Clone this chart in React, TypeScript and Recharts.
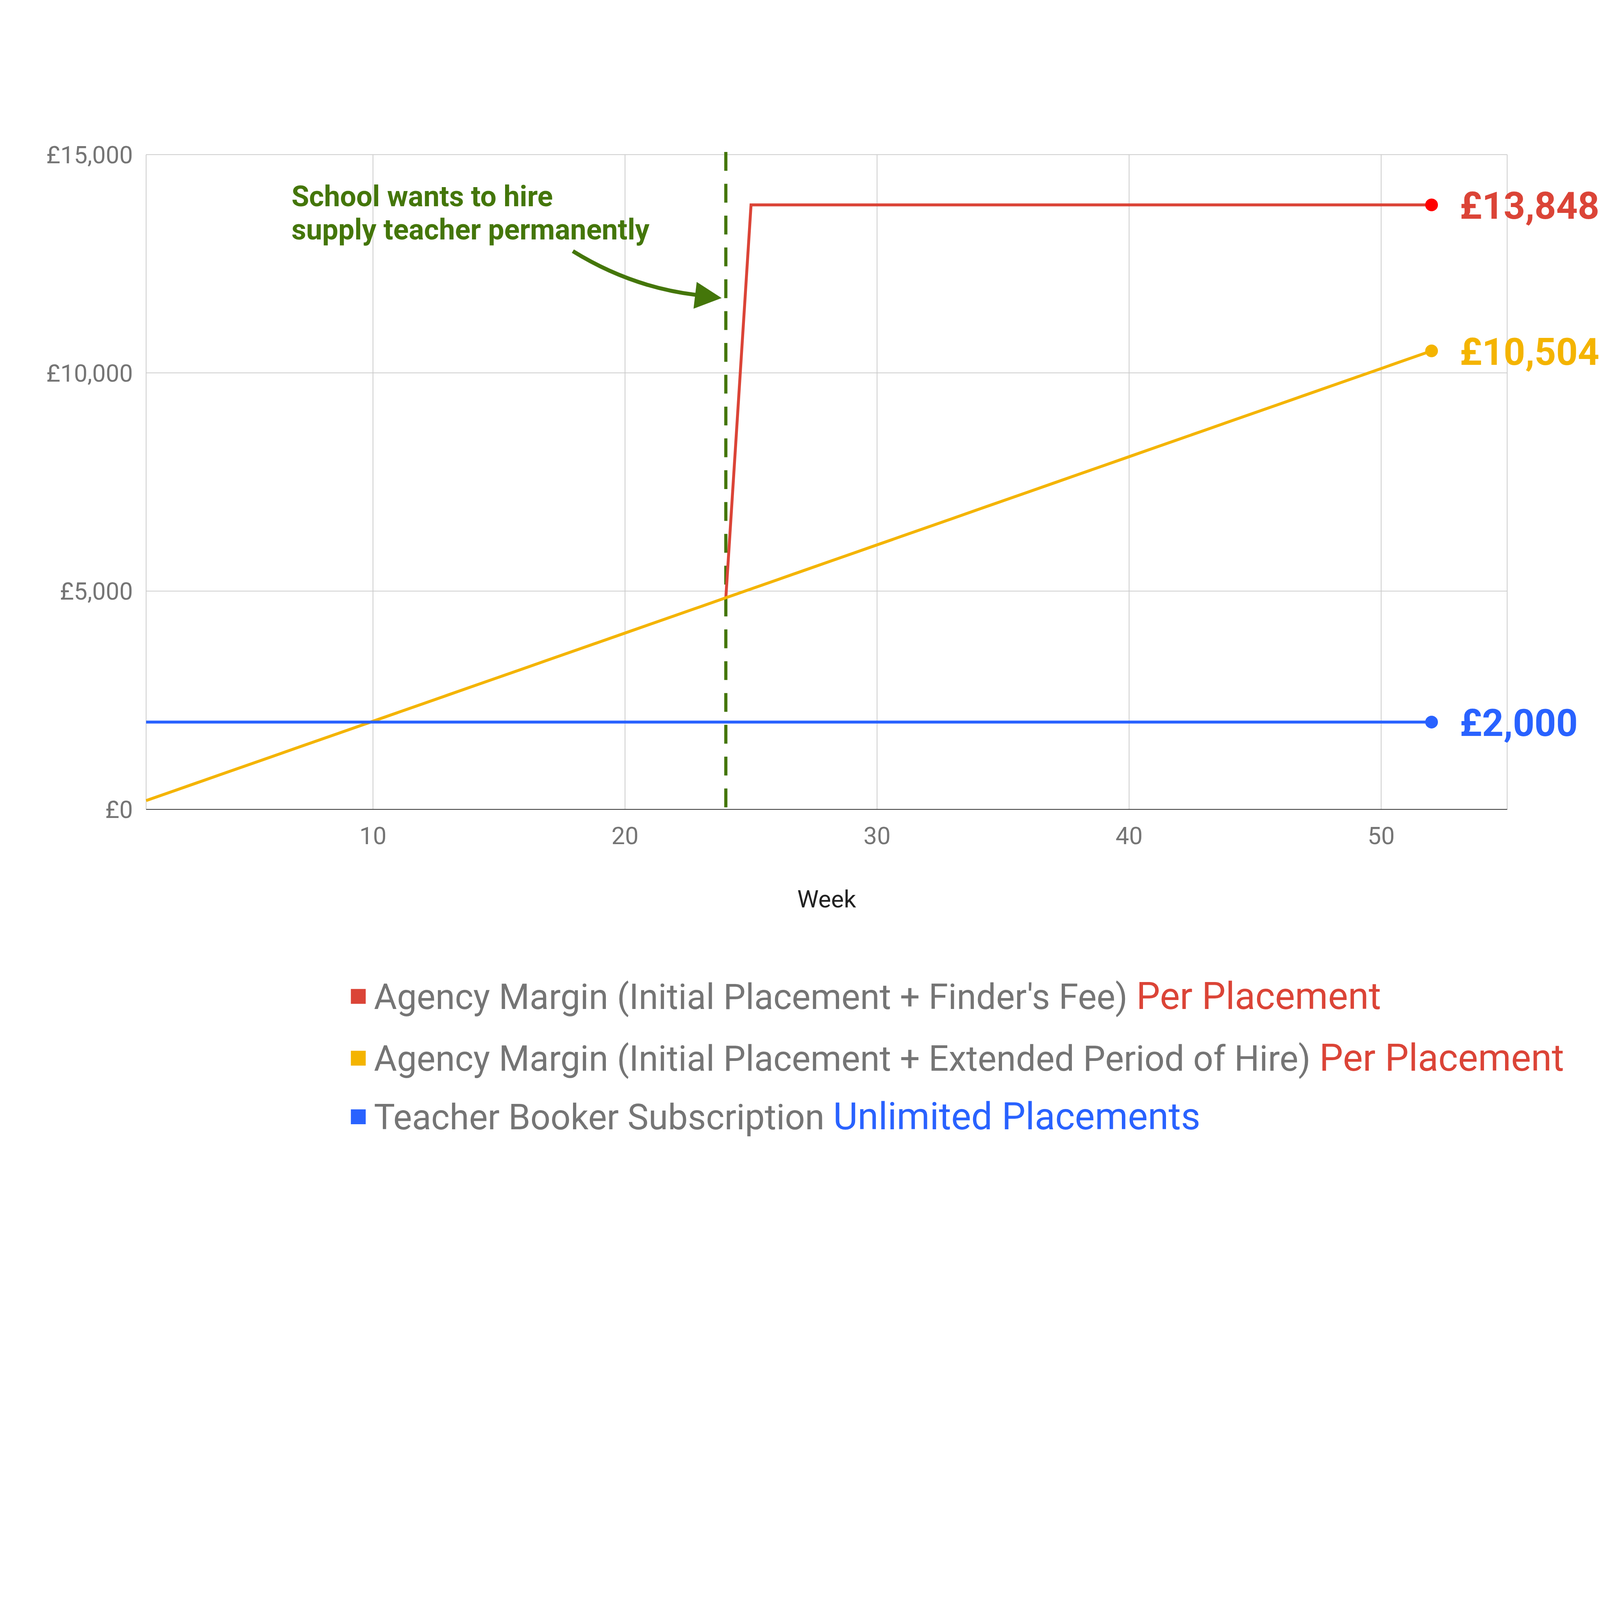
import React, { useEffect, useState } from 'react';
import {
  LineChart,
  Line,
  XAxis,
  YAxis,
  CartesianGrid,
  ReferenceLine,
} from 'recharts';

// Weeks 1..52
const weeks = [
  1, 2, 3, 4, 5, 6, 7, 8, 9, 10, 11, 12, 13, 14, 15, 16, 17, 18, 19, 20, 21, 22, 23, 24, 25, 26,
  27, 28, 29, 30, 31, 32, 33, 34, 35, 36, 37, 38, 39, 40, 41, 42, 43, 44, 45, 46, 47, 48, 49, 50,
  51, 52,
];

// Agency margin, initial placement + finder's fee (jumps at week 25)
const finderFee = [
  null, null, null, null, null, null, null, null, null, null, null, null, null, null, null, null,
  null, null, null, null, null, null, null, 4848, 13848, 13848, 13848, 13848, 13848, 13848, 13848,
  13848, 13848, 13848, 13848, 13848, 13848, 13848, 13848, 13848, 13848, 13848, 13848, 13848, 13848,
  13848, 13848, 13848, 13848, 13848, 13848, 13848,
];

// Agency margin, initial placement + extended period of hire
const extendedHire = [
  202, 404, 606, 808, 1010, 1212, 1414, 1616, 1818, 2020, 2222, 2424, 2626, 2828, 3030, 3232, 3434,
  3636, 3838, 4040, 4242, 4444, 4646, 4848, 5050, 5252, 5454, 5656, 5858, 6060, 6262, 6464, 6666,
  6868, 7070, 7272, 7474, 7676, 7878, 8080, 8282, 8484, 8686, 8888, 9090, 9292, 9494, 9696, 9898,
  10100, 10302, 10504,
];

// Teacher Booker subscription
const subscription = [
  2000, 2000, 2000, 2000, 2000, 2000, 2000, 2000, 2000, 2000, 2000, 2000, 2000, 2000, 2000, 2000,
  2000, 2000, 2000, 2000, 2000, 2000, 2000, 2000, 2000, 2000, 2000, 2000, 2000, 2000, 2000, 2000,
  2000, 2000, 2000, 2000, 2000, 2000, 2000, 2000, 2000, 2000, 2000, 2000, 2000, 2000, 2000, 2000,
  2000, 2000, 2000, 2000,
];

const yTicks = [0, 5000, 10000, 15000];
const xTicks = [10, 20, 30, 40, 50];
const hireWeek = 24;

const seriesKeys = ['finderFee', 'extendedHire', 'subscription'];
const seriesNames = [
  'Agency Margin (Initial Placement + Finder\'s Fee)',
  'Agency Margin (Initial Placement + Extended Period of Hire)',
  'Teacher Booker Subscription',
];
const seriesSuffix = ['Per Placement', 'Per Placement', 'Unlimited Placements'];
const lineColors = ['#db4437', '#f4b400', '#2962ff'];
const dotColors = ['#ff0000', '#f4b400', '#2962ff'];
const suffixColors = ['#db4437', '#db4437', '#2962ff'];
const annotationLines = ['School wants to hire', 'supply teacher permanently'];

const rows = weeks.map((week, i) => ({
  week,
  finderFee: finderFee[i],
  extendedHire: extendedHire[i],
  subscription: subscription[i],
}));

const W = 6033;
const H = 4290;
const GREEN = '#44760a';
const FONT = 'Roboto, sans-serif';

const poundFormat = (v: number) => `£${Number(v).toLocaleString('en-GB')}`;

// Only the last point gets a dot and a value label
const makeEndDot = (dotColor: string, labelColor: string) => (props: any) => {
  const { cx, cy, index, value } = props;
  if (index !== weeks.length - 1 || cx == null || cy == null) {
    return <g key={`dot-${index}`} />;
  }
  return (
    <g key={`dot-${index}`}>
      <circle cx={cx} cy={cy} r={24} fill={dotColor} />
      <text
        x={cx + 106}
        y={cy}
        dy="0.37em"
        fontFamily={FONT}
        fontWeight={700}
        fontSize={142}
        fill={labelColor}
      >
        {poundFormat(Array.isArray(value) ? value[1] : value)}
      </text>
    </g>
  );
};

const legendCenters = [3757, 3990, 4211];

const getScale = () => {
  const vw = document.documentElement.clientWidth || window.innerWidth || W;
  return vw / W;
};

export default function App() {
  const [scale, setScale] = useState(getScale());

  useEffect(() => {
    const onResize = () => setScale(getScale());
    window.addEventListener('resize', onResize);
    return () => window.removeEventListener('resize', onResize);
  }, []);

  return (
    <div style={{ width: W * scale, height: H * scale, position: 'relative' }}>
      <style>{'html,body{margin:0;padding:0;overflow:hidden;background:#fff}'}</style>
      <div
        style={{
          position: 'absolute',
          left: 0,
          top: 0,
          width: W,
          height: H,
          background: '#ffffff',
          fontFamily: FONT,
          transform: `scale(${scale})`,
          transformOrigin: '0 0',
        }}
      >
        <LineChart
          width={W}
          height={H}
          data={rows}
          margin={{ top: 583, right: 350, bottom: 790, left: 0 }}
        >
          <CartesianGrid stroke="#cccccc" strokeWidth={3} />
          <XAxis
            dataKey="week"
            type="number"
            domain={[1, 55]}
            ticks={xTicks}
            height={448}
            tickSize={0}
            tickMargin={66}
            tickLine={false}
            axisLine={{ stroke: '#333333', strokeWidth: 3 }}
            tick={{ fontSize: 91, fill: '#757575', fontFamily: FONT }}
            label={{
              value: 'Week',
              position: 'insideBottom',
              offset: 78,
              fontSize: 91,
              fill: '#222222',
              fontFamily: FONT,
            }}
          />
          <YAxis
            type="number"
            domain={[0, 15000]}
            ticks={yTicks}
            width={551}
            tickSize={0}
            tickMargin={50}
            tickLine={false}
            axisLine={false}
            tickFormatter={poundFormat}
            tick={{ fontSize: 91, fill: '#757575', fontFamily: FONT }}
          />
          <ReferenceLine
            segment={[
              { x: hireWeek, y: 15060 },
              { x: hireWeek, y: 0 },
            ]}
            ifOverflow="visible"
            stroke={GREEN}
            strokeWidth={12}
            strokeDasharray="71 49"
          />
          {seriesKeys.map((key, i) => (
            <Line
              key={key}
              type="linear"
              dataKey={key}
              name={seriesNames[i]}
              stroke={lineColors[i]}
              strokeWidth={11}
              dot={makeEndDot(dotColors[i], lineColors[i])}
              activeDot={false}
              connectNulls={false}
              isAnimationActive={false}
            />
          ))}
        </LineChart>

        <svg
          width={W}
          height={H}
          style={{ position: 'absolute', left: 0, top: 0, pointerEvents: 'none', overflow: 'visible' }}
        >
          {/* annotation */}
          {annotationLines.map((line, i) => (
            <text
              key={line}
              x={1099}
              y={777 + i * 126}
              fontFamily={FONT}
              fontWeight={700}
              fontSize={108}
              fill={GREEN}
            >
              {line}
            </text>
          ))}
          <path d="M2160 947 Q2378 1082 2625 1112" stroke={GREEN} strokeWidth={15} fill="none" />
          <polygon points="2627,1063 2721,1124 2615,1164" fill={GREEN} />

          {/* legend */}
          {seriesNames.map((name, i) => (
            <g key={name}>
              <rect x={1323} y={legendCenters[i] - 28} width={56} height={56} fill={lineColors[i]} />
              <text
                x={1410}
                y={legendCenters[i]}
                dy="0.355em"
                fontFamily={FONT}
                fontSize={133}
                fill="#757575"
              >
                {name}{' '}
                <tspan fill={suffixColors[i]} fontSize={142}>
                  {seriesSuffix[i]}
                </tspan>
              </text>
            </g>
          ))}
        </svg>
      </div>
    </div>
  );
}
